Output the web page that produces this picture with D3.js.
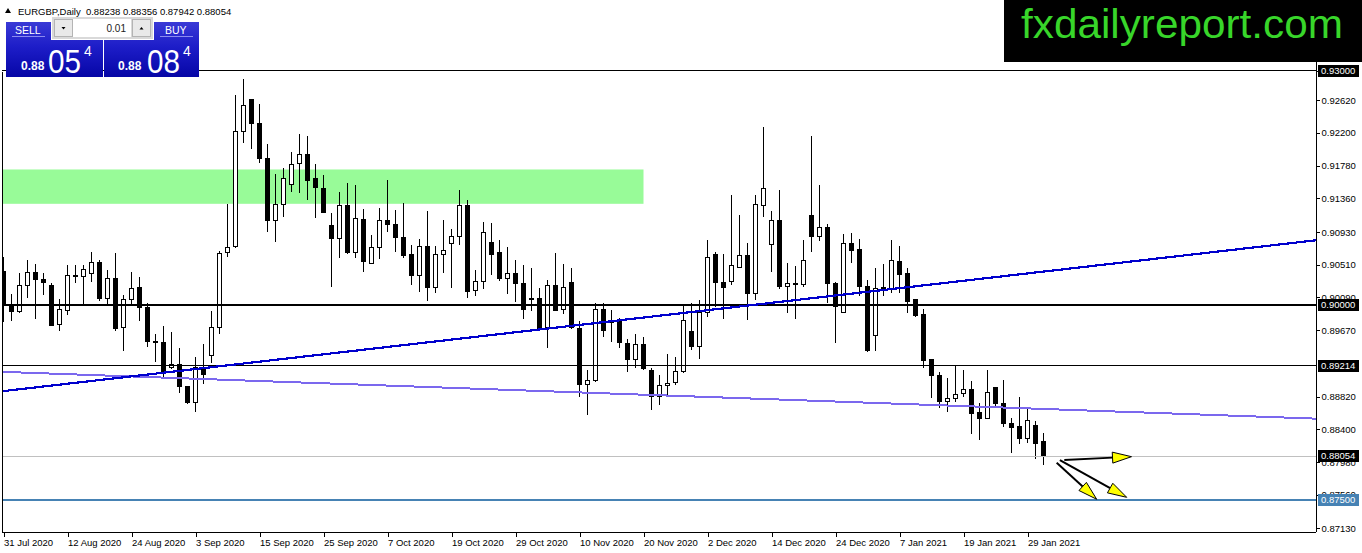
<!DOCTYPE html>
<html>
<head>
<meta charset="utf-8">
<script src="https://cdn.jsdelivr.net/npm/d3@7"></script>
<style>
html, body { margin: 0; padding: 0; background: #fff; overflow: hidden; }
svg { display: block; }
</style>
</head>
<body>
<svg id="chart" width="1362" height="553"></svg>
<script>
// ---- data ----
const symbolInfo = "EURGBP,Daily  0.88238 0.88356 0.87942 0.88054";
const bidDigits = ["0.88", "05", "4"];
const askDigits = ["0.88", "08", "4"];
const lotSize = "0.01";
const siteName = "fxdailyreport.com";

const opens = [
  0.90421, 0.90006, 0.89908, 0.90241, 0.90413, 0.90323, 0.90250, 0.89746, 0.89921, 0.90378,
  0.90356, 0.90400, 0.90541, 0.90079, 0.90336, 0.89703, 0.90067, 0.90221, 0.89964, 0.89532,
  0.89515, 0.89195, 0.89237, 0.88955, 0.88741, 0.89195, 0.89340, 0.89708, 0.90669, 0.90741,
  0.92215, 0.92622, 0.92323, 0.91874, 0.91074, 0.91285, 0.91541, 0.91810, 0.91917, 0.91609,
  0.91490, 0.91019, 0.90849, 0.91263, 0.90664, 0.91092, 0.90528, 0.90728, 0.91071, 0.91032,
  0.90862, 0.90635, 0.90369, 0.90750, 0.90221, 0.90635, 0.90785, 0.90869, 0.91263, 0.90182,
  0.90292, 0.90797, 0.90669, 0.90336, 0.90400, 0.90272, 0.90079, 0.90079, 0.89703, 0.90250,
  0.89938, 0.90285, 0.89695, 0.88977, 0.89023, 0.89938, 0.89788, 0.89779, 0.89503, 0.89297,
  0.89481, 0.89160, 0.88818, 0.88959, 0.89003, 0.89138, 0.89660, 0.89459, 0.89895, 0.90635,
  0.90285, 0.90292, 0.90472, 0.90622, 0.90144, 0.91267, 0.90772, 0.91071, 0.90228, 0.90272,
  0.90254, 0.91147, 0.90869, 0.90990, 0.90272, 0.89895, 0.90785, 0.90699, 0.90237, 0.89600,
  0.90212, 0.90195, 0.90545, 0.90400, 0.90058, 0.89878, 0.89301, 0.89096, 0.88754, 0.88797,
  0.88853, 0.88913, 0.88613, 0.88541, 0.88938, 0.88733, 0.88477, 0.88433, 0.88285, 0.88455,
  0.88238
];
const highs = [
  0.90613, 0.90135, 0.90400, 0.90571, 0.90519, 0.90408, 0.90279, 0.90067, 0.90506, 0.90506,
  0.90506, 0.90677, 0.90571, 0.90442, 0.90656, 0.90122, 0.90413, 0.90349, 0.90015, 0.89622,
  0.89724, 0.89651, 0.89438, 0.88955, 0.89331, 0.89494, 0.89921, 0.90690, 0.91285, 0.92686,
  0.92891, 0.92622, 0.92567, 0.92054, 0.91673, 0.91746, 0.91951, 0.92182, 0.92160, 0.91797,
  0.91660, 0.91169, 0.91446, 0.91554, 0.91532, 0.91221, 0.90891, 0.91233, 0.91596, 0.91212,
  0.91297, 0.90763, 0.90836, 0.91199, 0.90750, 0.91083, 0.90968, 0.91468, 0.91340, 0.90442,
  0.91054, 0.91041, 0.90827, 0.90737, 0.90571, 0.90506, 0.90464, 0.90215, 0.90314, 0.90656,
  0.90515, 0.90464, 0.89788, 0.89160, 0.90015, 0.90015, 0.89929, 0.89823, 0.89558, 0.89618,
  0.89587, 0.89182, 0.89096, 0.89362, 0.89323, 0.89994, 0.90015, 0.90058, 0.90827, 0.90677,
  0.90647, 0.91404, 0.91147, 0.90785, 0.91404, 0.92279, 0.91203, 0.91468, 0.90528, 0.90494,
  0.90827, 0.92160, 0.91532, 0.91032, 0.90292, 0.90904, 0.90913, 0.90836, 0.90314, 0.90464,
  0.90519, 0.90827, 0.90750, 0.90464, 0.90058, 0.89938, 0.89301, 0.89138, 0.89054, 0.89224,
  0.89160, 0.89023, 0.88733, 0.89160, 0.88946, 0.89032, 0.88541, 0.88818, 0.88682, 0.88506,
  0.88356
];
const lows = [
  0.89779, 0.89792, 0.89887, 0.90079, 0.89810, 0.90122, 0.89724, 0.89664, 0.89865, 0.90279,
  0.90006, 0.90292, 0.90049, 0.90006, 0.89664, 0.89408, 0.90006, 0.89792, 0.89451, 0.89267,
  0.89074, 0.89169, 0.88862, 0.88721, 0.88626, 0.88981, 0.89246, 0.89622, 0.90613, 0.90728,
  0.92074, 0.91994, 0.91810, 0.90926, 0.90805, 0.91126, 0.91438, 0.91426, 0.91340, 0.91105,
  0.91169, 0.90228, 0.90600, 0.90644, 0.90600, 0.90421, 0.90515, 0.90579, 0.90933, 0.90677,
  0.90592, 0.90250, 0.90164, 0.90045, 0.90144, 0.90400, 0.90208, 0.90763, 0.90087, 0.90113,
  0.90199, 0.90378, 0.90301, 0.90131, 0.90036, 0.89810, 0.89917, 0.89660, 0.89438, 0.89917,
  0.89874, 0.89686, 0.88810, 0.88583, 0.89010, 0.89587, 0.89523, 0.89446, 0.89138, 0.89182,
  0.89160, 0.88647, 0.88712, 0.88840, 0.88968, 0.89118, 0.89417, 0.89297, 0.89836, 0.89964,
  0.89810, 0.90250, 0.90464, 0.89801, 0.90058, 0.91126, 0.90421, 0.90195, 0.89895, 0.89810,
  0.90228, 0.90677, 0.90818, 0.90015, 0.89510, 0.89887, 0.90536, 0.90109, 0.89395, 0.89408,
  0.90109, 0.90151, 0.90144, 0.89895, 0.89844, 0.89182, 0.88805, 0.88669, 0.88626, 0.88754,
  0.88810, 0.88340, 0.88263, 0.88528, 0.88669, 0.88433, 0.88100, 0.88212, 0.88228, 0.88015,
  0.87942
];
const closes = [
  0.89994, 0.89908, 0.90250, 0.90413, 0.90323, 0.90279, 0.89737, 0.89938, 0.90378, 0.90365,
  0.90451, 0.90541, 0.90071, 0.90336, 0.89695, 0.90067, 0.90208, 0.89959, 0.89523, 0.89510,
  0.89126, 0.89233, 0.88955, 0.88741, 0.89195, 0.89105, 0.89708, 0.90656, 0.90733, 0.92224,
  0.92545, 0.92323, 0.91874, 0.91074, 0.91285, 0.91618, 0.91797, 0.91917, 0.91587, 0.91497,
  0.91182, 0.90849, 0.91263, 0.90664, 0.91105, 0.90549, 0.90733, 0.91083, 0.91028, 0.90856,
  0.90626, 0.90369, 0.90750, 0.90221, 0.90647, 0.90686, 0.90878, 0.91263, 0.90164, 0.90301,
  0.90926, 0.90647, 0.90327, 0.90400, 0.90267, 0.89933, 0.90062, 0.89686, 0.90250, 0.89929,
  0.90221, 0.89703, 0.88968, 0.89023, 0.89938, 0.89664, 0.89776, 0.89515, 0.89297, 0.89481,
  0.89182, 0.88818, 0.88964, 0.88990, 0.89138, 0.89801, 0.89459, 0.89895, 0.90605, 0.90279,
  0.90215, 0.90494, 0.90622, 0.90144, 0.91276, 0.91490, 0.91071, 0.90228, 0.90263, 0.90254,
  0.90558, 0.90869, 0.90990, 0.90263, 0.89972, 0.90785, 0.90690, 0.90228, 0.89408, 0.90208,
  0.90224, 0.90558, 0.90391, 0.90036, 0.89865, 0.89279, 0.89087, 0.88754, 0.88797, 0.88849,
  0.88913, 0.88605, 0.88541, 0.88874, 0.88733, 0.88468, 0.88426, 0.88285, 0.88519, 0.88221,
  0.88054
];

// one date label every 8 bars, starting at bar 0
const dateLabels = ["31 Jul 2020", "12 Aug 2020", "24 Aug 2020", "3 Sep 2020", "15 Sep 2020",
  "25 Sep 2020", "7 Oct 2020", "19 Oct 2020", "29 Oct 2020", "10 Nov 2020", "20 Nov 2020",
  "2 Dec 2020", "14 Dec 2020", "24 Dec 2020", "7 Jan 2021", "19 Jan 2021", "29 Jan 2021"];
// 0.89250 sits fully under the 0.89214 tag, so it is left out
const priceTicks = [0.93, 0.9262, 0.922, 0.9178, 0.9136, 0.9093, 0.9051, 0.9009,
  0.8967, 0.8882, 0.884, 0.8798, 0.8756, 0.8713];

// drawn objects
const levelLines = [0.93, 0.9, 0.89214];
const bidPrice = 0.88054;
const targetPrice = 0.875;
const supplyZone = [0.91291, 0.91731];   // price bottom / top
const supplyZoneBars = [-2, 80];
const blueTrend = [[0, 0.88890], [130, 0.90422]];
const purpleTrend = [[0, 0.89136], [130, 0.88661]];
const arrows = [
  [[132.6, 0.88006], [141.0, 0.88049]],
  [[131.65, 0.87972], [136.65, 0.87503]],
  [[132.05, 0.88006], [140.4, 0.87528]]
];

// ---- layout ----
const W = 1362, H = 553;
const plot = { left: 2, right: 1316, top: 0, bottom: 532 };
const FONT = "'Liberation Sans', Arial, sans-serif";

const svg = d3.select("#chart");
const x = d3.scaleLinear().domain([0, 130]).range([3.5, 1043.5]);
const y = d3.scaleLinear().domain([0.875, 0.9]).range([499.5, 304.5]);
const snap = v => Math.round(v - 0.5) + 0.5;

svg.append("rect").attr("width", W).attr("height", H).attr("fill", "#fff");

svg.append("defs").append("clipPath").attr("id", "plotClip")
  .append("rect")
  .attr("x", plot.left).attr("y", plot.top)
  .attr("width", plot.right - plot.left).attr("height", plot.bottom - plot.top);

const g = svg.append("g").attr("clip-path", "url(#plotClip)");

// supply zone (background object)
g.append("rect")
  .attr("x", x(supplyZoneBars[0])).attr("width", x(supplyZoneBars[1]) - x(supplyZoneBars[0]))
  .attr("y", y(supplyZone[1])).attr("height", y(supplyZone[0]) - y(supplyZone[1]))
  .attr("fill", "#98fb98");

// candles
const bars = d3.range(opens.length).map(i => ({ i, o: opens[i], h: highs[i], l: lows[i], c: closes[i] }));
const cg = g.append("g").attr("shape-rendering", "crispEdges");
cg.selectAll("line").data(bars).join("line")
  .attr("x1", d => x(d.i)).attr("x2", d => x(d.i))
  .attr("y1", d => Math.round(y(d.h))).attr("y2", d => Math.round(y(d.l)))
  .attr("stroke", "#000").attr("stroke-width", 1);
cg.selectAll("rect").data(bars).join("rect")
  .attr("x", d => x(d.i) - 2).attr("width", 4)
  .attr("y", d => snap(y(Math.max(d.o, d.c))))
  .attr("height", d => Math.max(1, snap(y(Math.min(d.o, d.c))) - snap(y(Math.max(d.o, d.c)))))
  .attr("fill", d => d.c >= d.o ? "#fff" : "#000")
  .attr("stroke", "#000").attr("stroke-width", 1);

// horizontal levels
const hl = g.append("g").attr("shape-rendering", "crispEdges");
levelLines.forEach(p => {
  hl.append("line")
    .attr("x1", plot.left).attr("x2", plot.right)
    .attr("y1", snap(y(p))).attr("y2", snap(y(p)))
    .attr("stroke", "#000").attr("stroke-width", p === 0.9 ? 2 : 1);
});
hl.append("line")
  .attr("x1", plot.left).attr("x2", plot.right)
  .attr("y1", snap(y(bidPrice))).attr("y2", snap(y(bidPrice)))
  .attr("stroke", "#c0c0c0").attr("stroke-width", 1);
hl.append("line")
  .attr("x1", plot.left).attr("x2", plot.right)
  .attr("y1", y(targetPrice)).attr("y2", y(targetPrice))
  .attr("stroke", "#4682b4").attr("stroke-width", 2);

// trend lines, extended across the chart
function trend(pts, color, width) {
  const [[i0, p0], [i1, p1]] = pts;
  const slope = (p1 - p0) / (i1 - i0);
  const a = -2, b = 170;
  g.append("line")
    .attr("x1", x(a)).attr("y1", y(p0 + slope * (a - i0)))
    .attr("x2", x(b)).attr("y2", y(p0 + slope * (b - i0)))
    .attr("stroke", color).attr("stroke-width", width)
    .attr("shape-rendering", "crispEdges");
}
trend(purpleTrend, "#7b68ee", 2);
trend(blueTrend, "#0000cd", 2.2);

// arrows
arrows.forEach(([s, e]) => {
  const x0 = x(s[0]), y0 = y(s[1]), x1 = x(e[0]), y1 = y(e[1]);
  const len = Math.hypot(x1 - x0, y1 - y0);
  const ux = (x1 - x0) / len, uy = (y1 - y0) / len;
  const hl2 = 19, hw = 5.5;
  const bx = x1 - ux * hl2, by = y1 - uy * hl2;
  g.append("line")
    .attr("x1", x0).attr("y1", y0).attr("x2", bx).attr("y2", by)
    .attr("stroke", "#000").attr("stroke-width", 2);
  g.append("path")
    .attr("d", `M${x1},${y1}L${bx - uy * hw},${by + ux * hw}L${bx + uy * hw},${by - ux * hw}Z`)
    .attr("fill", "#ffff00").attr("stroke", "#000").attr("stroke-width", 1);
});

// frame
const frame = svg.append("g").attr("shape-rendering", "crispEdges");
frame.append("line").attr("x1", 2.5).attr("x2", 2.5).attr("y1", 72).attr("y2", plot.bottom)
  .attr("stroke", "#000");

// right price axis
const yAxis = svg.append("g")
  .attr("transform", `translate(${plot.right + 0.5},0)`)
  .call(d3.axisRight(y).tickValues(priceTicks).tickFormat(d3.format(".5f"))
    .tickSize(3).tickPadding(2).tickSizeOuter(0))
  .attr("shape-rendering", "crispEdges");
yAxis.select(".domain").attr("d", `M0,${plot.top}V${plot.bottom}`).attr("stroke", "#000");
yAxis.selectAll(".tick line").attr("stroke", "#000");
yAxis.selectAll(".tick text")
  .style("font-family", FONT).style("font-size", "9.5px").attr("fill", "#000");

// bottom time axis
const xAxis = svg.append("g")
  .attr("transform", `translate(0,${plot.bottom + 0.5})`)
  .call(d3.axisBottom(x).tickValues(dateLabels.map((d, k) => k * 8))
    .tickFormat((d, k) => dateLabels[k]).tickSize(4).tickPadding(3).tickSizeOuter(0))
  .attr("shape-rendering", "crispEdges");
xAxis.select(".domain").attr("d", `M${plot.left},0H${plot.right}`).attr("stroke", "#000");
xAxis.selectAll(".tick line").attr("stroke", "#000");
xAxis.selectAll(".tick text")
  .attr("text-anchor", "start").attr("x", 0)
  .style("font-family", FONT).style("font-size", "9.5px").attr("fill", "#000");

// highlighted price labels
function priceTag(p, bg) {
  const yy = Math.round(y(p));
  svg.append("rect").attr("x", plot.right + 2).attr("y", yy - 6).attr("width", 41).attr("height", 12)
    .attr("fill", bg).attr("shape-rendering", "crispEdges");
  svg.append("text").attr("x", plot.right + 5).attr("y", yy).attr("dy", "0.35em")
    .style("font-family", FONT).style("font-size", "9.5px").attr("fill", "#fff")
    .text(d3.format(".5f")(p));
}
levelLines.forEach(p => priceTag(p, "#000"));
priceTag(bidPrice, "#000");
priceTag(targetPrice, "#4682b4");

// ---- header & one-click trading panel ----
svg.append("path").attr("d", "M5,13L8,8L11,13Z").attr("fill", "#000");
svg.append("text").attr("x", 18).attr("y", 14.5)
  .style("font-family", FONT).style("font-size", "9.5px").attr("fill", "#000")
  .attr("xml:space", "preserve").text(symbolInfo);

const defs = svg.select("defs");
const grad = defs.append("linearGradient").attr("id", "panelGrad")
  .attr("x1", 0).attr("y1", 0).attr("x2", 0).attr("y2", 1);
grad.append("stop").attr("offset", "0%").attr("stop-color", "#3a3ad6");
grad.append("stop").attr("offset", "45%").attr("stop-color", "#1d1dc8");
grad.append("stop").attr("offset", "100%").attr("stop-color", "#0606a6");

const panel = svg.append("g").attr("shape-rendering", "crispEdges");
panel.append("path").attr("d", "M6,22H51V40H103V77H6Z").attr("fill", "url(#panelGrad)");
panel.append("path").attr("d", "M154,22H199V77H104V40H154Z").attr("fill", "url(#panelGrad)");
panel.append("line").attr("x1", 12).attr("x2", 45).attr("y1", 36.5).attr("y2", 36.5).attr("stroke", "#8c8cf0");
panel.append("line").attr("x1", 160).attr("x2", 193).attr("y1", 36.5).attr("y2", 36.5).attr("stroke", "#8c8cf0");

panel.append("rect").attr("x", 52).attr("y", 17).attr("width", 101).attr("height", 22).attr("fill", "#d9d9d9");
panel.append("rect").attr("x", 54.5).attr("y", 19.5).attr("width", 18).attr("height", 17)
  .attr("fill", "#e9e9e9").attr("stroke", "#b4b4b4");
panel.append("rect").attr("x", 73).attr("y", 19).attr("width", 58).attr("height", 18).attr("fill", "#fff");
panel.append("rect").attr("x", 132.5).attr("y", 19.5).attr("width", 18).attr("height", 17)
  .attr("fill", "#e9e9e9").attr("stroke", "#b4b4b4");
svg.append("path").attr("d", "M61.5,27H65.5L63.5,29.5Z").attr("fill", "#000");
svg.append("path").attr("d", "M139.5,29.5H143.5L141.5,27Z").attr("fill", "#000");
svg.append("text").attr("x", 126).attr("y", 32).attr("text-anchor", "end")
  .style("font-family", FONT).style("font-size", "10px").attr("fill", "#222").text(lotSize);

const label = (tx, ty, size, txt, opts = {}) => {
  const t = svg.append("text").attr("x", tx).attr("y", ty)
    .style("font-family", FONT).style("font-size", size + "px").attr("fill", "#fff")
    .style("font-weight", opts.bold ? "bold" : "normal").text(txt);
  if (opts.len) t.attr("textLength", opts.len).attr("lengthAdjust", "spacingAndGlyphs");
  return t;
};
label(15, 34, 10.5, "SELL");
label(165, 34, 10.5, "BUY");
label(21, 70, 12, bidDigits[0], { bold: true });
label(48, 72.5, 33, bidDigits[1], { len: 33 });
label(84, 56, 14, bidDigits[2]);
label(118, 70, 12, askDigits[0], { bold: true });
label(147, 72.5, 33, askDigits[1], { len: 33 });
label(183, 56, 14, askDigits[2]);

// ---- site logo ----
svg.append("rect").attr("x", 1004).attr("y", 0).attr("width", W - 1004).attr("height", 62).attr("fill", "#000");
svg.append("text").attr("x", 1021).attr("y", 38)
  .style("font-family", FONT).style("font-size", "41px").attr("fill", "#38d62a")
  .attr("textLength", 322).attr("lengthAdjust", "spacingAndGlyphs")
  .text(siteName);
</script>
</body>
</html>
